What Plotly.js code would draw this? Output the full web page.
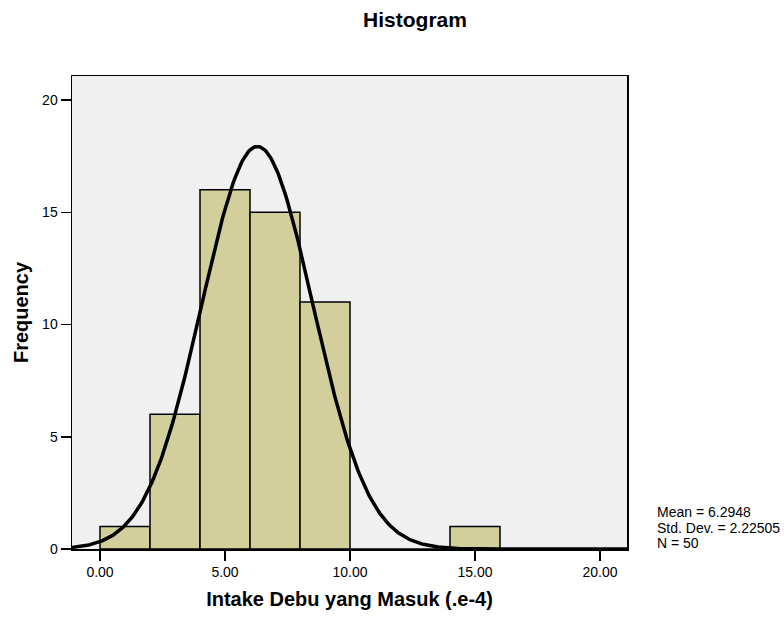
<!DOCTYPE html>
<html>
<head>
<meta charset="utf-8">
<script src="https://cdn.plot.ly/plotly-3.0.1.min.js"></script>
<style>
  html, body { margin: 0; padding: 0; background: #ffffff; }
  #chart { width: 784px; height: 617px; }
</style>
</head>
<body>
<div id="chart"></div>
<script>
// Histogram bins (bin width 2, lower edges) and frequencies
const binStarts = [0, 2, 4, 6, 8, 10, 12, 14];
const binWidth = 2;
const frequencies = [1, 6, 16, 15, 11, 0, 0, 1];

// Summary statistics shown on the chart
const MEAN = 6.2948;
const STD_DEV = 2.22505;
const N = 50;

// Axis ticks
const xTickVals = [0, 5, 10, 15, 20];
const xTickText = ["0.00", "5.00", "10.00", "15.00", "20.00"];
const yTickVals = [0, 5, 10, 15, 20];

const xRange = [-1.12, 21.08];
const yRange = [0, 21.07];

// Bar centers from bin edges
const binCenters = binStarts.map(s => s + binWidth / 2);

// Fitted normal curve (scaled to frequency) from the displayed mean / std dev / N
const curveX = [];
const curveY = [];
for (let i = 0; i <= 400; i++) {
  const x = xRange[0] + (xRange[1] - xRange[0]) * i / 400;
  const z = (x - MEAN) / STD_DEV;
  curveX.push(x);
  curveY.push(N * binWidth * Math.exp(-0.5 * z * z) / (STD_DEV * Math.sqrt(2 * Math.PI)));
}

const FONT = "Liberation Sans, Arial, Helvetica, sans-serif";

const traces = [
  {
    type: "bar",
    x: binCenters,
    y: frequencies,
    width: binWidth,
    marker: { color: "#d3cf9d", line: { color: "#000000", width: 1.5 } },
    hoverinfo: "x+y",
    showlegend: false
  },
  {
    type: "scatter",
    mode: "lines",
    x: curveX,
    y: curveY,
    line: { color: "#000000", width: 3.5 },
    hoverinfo: "skip",
    showlegend: false
  }
];

const layout = {
  width: 784,
  height: 617,
  margin: { l: 72, r: 157, t: 76, b: 68 },
  paper_bgcolor: "#ffffff",
  plot_bgcolor: "#f0f0f0",
  bargap: 0,
  font: { family: FONT, color: "#000000", size: 14 },
  title: {
    text: "Histogram",
    font: { family: FONT, size: 21, weight: "bold", color: "#000000" },
    xref: "container", x: 415 / 784, xanchor: "center",
    yref: "container", y: 1 - 20 / 617, yanchor: "middle"
  },
  xaxis: {
    range: xRange,
    tickmode: "array",
    tickvals: xTickVals,
    ticktext: xTickText,
    ticks: "outside",
    ticklen: 10,
    tickwidth: 1.5,
    tickcolor: "#000000",
    tickfont: { family: FONT, size: 14, color: "#000000" },
    showgrid: false,
    zeroline: false,
    showline: true,
    linecolor: "#000000",
    linewidth: 1.5,
    mirror: true,
    title: {
      text: "Intake Debu yang Masuk (.e-4)",
      font: { family: FONT, size: 20, weight: "bold", color: "#000000" },
      standoff: 12
    },
    automargin: false
  },
  yaxis: {
    range: yRange,
    tickmode: "array",
    tickvals: yTickVals,
    ticks: "outside",
    ticklen: 10,
    tickwidth: 1.5,
    tickcolor: "#000000",
    tickfont: { family: FONT, size: 14, color: "#000000" },
    showgrid: false,
    zeroline: false,
    showline: true,
    linecolor: "#000000",
    linewidth: 1.5,
    mirror: true,
    title: {
      text: "Frequency",
      font: { family: FONT, size: 20, weight: "bold", color: "#000000" },
      standoff: 8
    },
    automargin: false
  },
  annotations: [
    { text: "Mean = " + MEAN, xref: "paper", yref: "paper", x: (655 - 72) / 555, y: (549 - 512) / 473,
      xanchor: "left", yanchor: "middle", showarrow: false, align: "left", font: { family: FONT, size: 14 } },
    { text: "Std. Dev. = " + STD_DEV, xref: "paper", yref: "paper", x: (655 - 72) / 555, y: (549 - 528) / 473,
      xanchor: "left", yanchor: "middle", showarrow: false, align: "left", font: { family: FONT, size: 14 } },
    { text: "N = " + N, xref: "paper", yref: "paper", x: (655 - 72) / 555, y: (549 - 543) / 473,
      xanchor: "left", yanchor: "middle", showarrow: false, align: "left", font: { family: FONT, size: 14 } }
  ]
};

Plotly.newPlot("chart", traces, layout, { displayModeBar: false, staticPlot: true });
</script>
</body>
</html>
